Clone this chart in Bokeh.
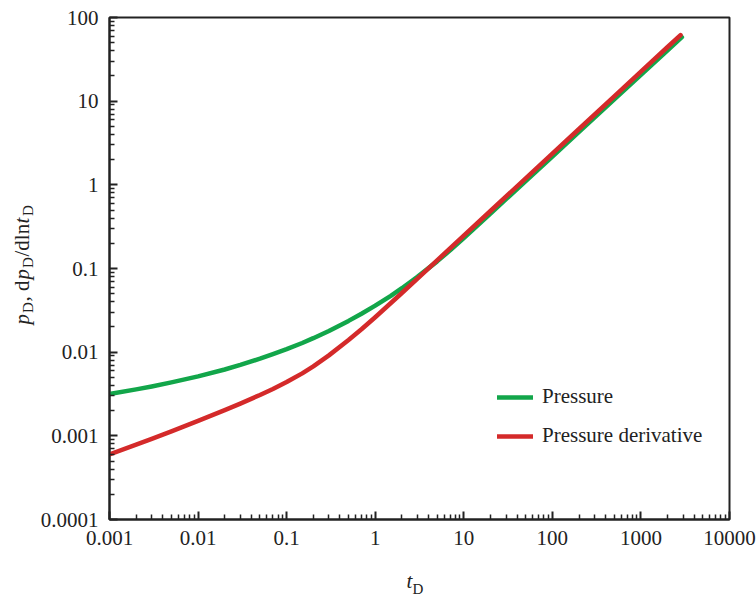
import math

from bokeh.embed import file_html
from bokeh.layouts import column, row
from bokeh.models import FixedTicker, Label, Legend, LegendItem
from bokeh.plotting import figure
from bokeh.resources import INLINE

# Dimensionless time and type-curve values
t_d = [0.001, 0.002, 0.003, 0.005, 0.01, 0.02, 0.03, 0.05, 0.07, 0.1, 0.15,
       0.2, 0.3, 0.5, 0.7, 1, 1.5, 2, 3, 5, 7, 10, 20, 50, 100, 200, 500,
       1000, 2000, 2900]
pressure = [0.00317, 0.003594, 0.003896, 0.004355, 0.005137, 0.006204,
            0.007032, 0.008359, 0.009452, 0.010857, 0.012874, 0.014695,
            0.017937, 0.023643, 0.028807, 0.035955, 0.0472, 0.0581, 0.0794,
            0.1217, 0.1647, 0.2311, 0.4543, 1.110, 2.182, 4.288, 10.48,
            20.6, 40.5, 58.2]
t_d_deriv = [0.001, 0.002, 0.003, 0.005, 0.01, 0.02, 0.03, 0.05, 0.07, 0.1,
             0.15, 0.2, 0.3, 0.5, 0.7, 1, 2, 3, 5, 10, 20, 50, 100, 200, 500,
             1000, 2000, 2800]
derivative = [0.00060, 0.000783, 0.000920, 0.00113, 0.001507, 0.00203,
              0.00243, 0.00308, 0.003635, 0.00439, 0.00558, 0.00677, 0.00915,
              0.01396, 0.0188, 0.02615, 0.05095, 0.0758, 0.1251, 0.2467,
              0.4866, 1.195, 2.357, 4.648, 11.41, 22.5, 44.4, 61.7]

x_ticks = [0.001, 0.01, 0.1, 1, 10, 100, 1000, 10000]
x_tick_labels = ["0.001", "0.01", "0.1", "1", "10", "100", "1000", "10000"]
y_ticks = [0.0001, 0.001, 0.01, 0.1, 1, 10, 100]
y_tick_labels = ["0.0001", "0.001", "0.01", "0.1", "1", "10", "100"]

series_names = ["Pressure", "Pressure derivative"]

GREEN = "#12a64a"
RED = "#d42a2a"
INK = "#222222"
SERIF = "Liberation Serif"
FS = "21px"
SUB = "15px"

W, H = 756, 596
YLAB_W = 37          # strip holding the vertical axis title
XLAB_H = 36          # strip holding the horizontal axis title
MAIN_W, MAIN_H = W - YLAB_W, H - XLAB_H
FRAME_LEFT = 109     # canvas x of the plotting frame's left edge

p = figure(width=MAIN_W, height=MAIN_H, x_axis_type="log", y_axis_type="log",
           x_range=(0.001, 10000), y_range=(0.0001, 100),
           output_backend="svg", toolbar_location=None,
           min_border_left=FRAME_LEFT - YLAB_W, min_border_right=27,
           min_border_top=17, min_border_bottom=MAIN_H - 519)

p.background_fill_color = "white"
p.border_fill_color = "white"
p.outline_line_color = INK
p.outline_line_width = 2
p.xgrid.visible = False
p.ygrid.visible = False


def minor_positions(lo_exp, hi_exp):
    out = []
    for e in range(lo_exp, hi_exp):
        for m in range(2, 10):
            out.append(m * 10.0 ** e)
    return out


p.xaxis.ticker = FixedTicker(ticks=x_ticks, minor_ticks=minor_positions(-3, 4))
p.yaxis.ticker = FixedTicker(ticks=y_ticks, minor_ticks=minor_positions(-4, 2))
p.xaxis.major_label_overrides = {t: s for t, s in zip(x_ticks, x_tick_labels)}
p.yaxis.major_label_overrides = {t: s for t, s in zip(y_ticks, y_tick_labels)}

for ax in (p.xaxis, p.yaxis):
    ax.axis_line_color = INK
    ax.axis_line_width = 2
    ax.major_tick_line_color = INK
    ax.minor_tick_line_color = INK
    ax.major_tick_line_width = 2
    ax.minor_tick_line_width = 1.5
    ax.major_tick_in = 8
    ax.major_tick_out = 0
    ax.minor_tick_in = 5
    ax.minor_tick_out = 0
    ax.major_label_text_font = SERIF
    ax.major_label_text_font_size = FS
    ax.major_label_text_color = INK
p.xaxis.major_label_standoff = 11
p.yaxis.major_label_standoff = 11

r_p = p.line(t_d, pressure, line_color=GREEN, line_width=4.5,
             line_join="round", line_cap="round")
r_d = p.line(t_d_deriv, derivative, line_color=RED, line_width=4.5,
             line_join="round", line_cap="round")

legend = Legend(items=[LegendItem(label=series_names[0], renderers=[r_p]),
                       LegendItem(label=series_names[1], renderers=[r_d])],
                location=(388, 71), padding=0, margin=0, spacing=14,
                glyph_width=36, glyph_height=20, label_height=20,
                label_standoff=9, border_line_color=None,
                background_fill_alpha=0,
                label_text_font=SERIF, label_text_font_size=FS,
                label_text_color=INK)
p.add_layout(legend)


def text_strip(width, height):
    f = figure(width=width, height=height, x_range=(0, width),
               y_range=(0, height), output_backend="svg",
               toolbar_location=None, x_axis_location=None,
               y_axis_location=None, min_border=0)
    f.outline_line_color = None
    f.background_fill_color = "white"
    f.border_fill_color = "white"
    f.xgrid.visible = False
    f.ygrid.visible = False
    return f


def piece(fig, text, x, y, size, italic=False, angle=0.0):
    fig.add_layout(Label(x=x, y=y, x_units="screen", y_units="screen",
                         text=text, angle=angle, text_font=SERIF,
                         text_font_size=size,
                         text_font_style="italic" if italic else "normal",
                         text_color=INK, text_align="left",
                         text_baseline="middle"))


# vertical axis title: p_D, dp_D/dln t_D (reads upward)
ylab = text_strip(YLAB_W, H)
a = math.pi / 2
y0 = H - 324
parts = [("p", FS, True, 11.5), ("D", SUB, False, 11.5),
         (", d", FS, False, 22), ("p", FS, True, 11.5),
         ("D", SUB, False, 11.5), ("/dln", FS, False, 33),
         ("t", FS, True, 7.5), ("D", SUB, False, 11)]
cum = 0
for text, size, ital, w in parts:
    xx = 27 if size == SUB else 21
    piece(ylab, text, xx, y0 + cum, size, italic=ital, angle=a)
    cum += w

# horizontal axis title: t_D (strip frame shares the plot frame's left edge)
xlab = text_strip(MAIN_W, XLAB_H)
piece(xlab, "t", 406 - FRAME_LEFT, 16, FS, italic=True)
piece(xlab, "D", 412 - FRAME_LEFT, 8, SUB)

layout = row(ylab, column(p, xlab, spacing=0), spacing=0)

open("out.html", "w").write(file_html(layout, INLINE))
